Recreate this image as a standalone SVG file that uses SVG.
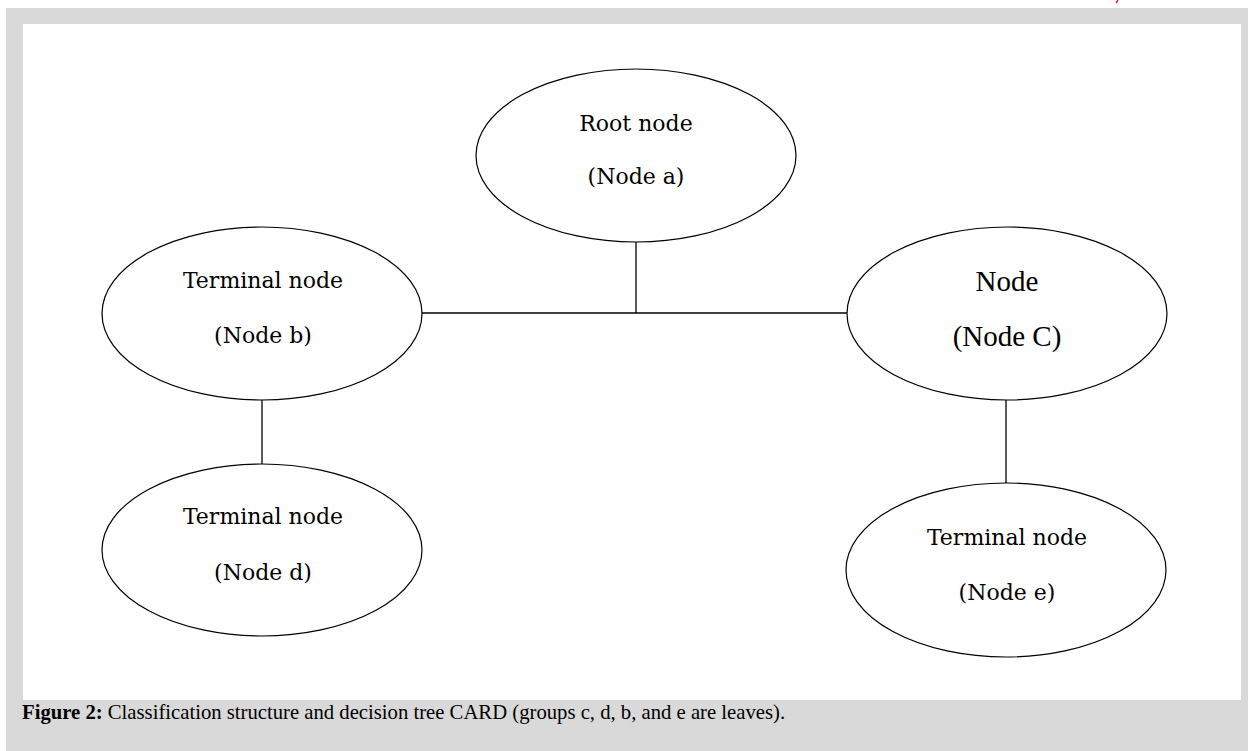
<svg xmlns="http://www.w3.org/2000/svg" width="1248" height="751" viewBox="0 0 1248 751">
<style>
.node ellipse{fill:#ffffff;stroke:#000000;stroke-width:1.2}
.lbl{font-family:"DejaVu Serif","Liberation Serif",serif;font-size:22px;fill:#000000;text-anchor:middle}
.lblt{font-family:"Liberation Serif","Times New Roman",serif;font-size:29px;fill:#000000;text-anchor:middle}
.conn line{stroke:#000000;stroke-width:1.3}
.cap{font-family:"Liberation Serif","Times New Roman",serif;font-size:20.7px;fill:#000000}
</style>
<rect x="0" y="0" width="1248" height="751" fill="#ffffff"/>
<rect x="6" y="8" width="1242" height="743" fill="#d9d9d9"/>
<rect x="23" y="24" width="1218" height="676" fill="#ffffff"/>
<line x1="1116" y1="3" x2="1118" y2="0" stroke="#e03030" stroke-width="1.5"/>
<g id="connectors" class="conn">
<line x1="636" y1="242" x2="636" y2="313"/>
<line x1="422" y1="313" x2="847" y2="313"/>
<line x1="262" y1="400" x2="262" y2="464"/>
<line x1="1006" y1="400" x2="1006" y2="483"/>
</g>
<g id="node-a" class="node">
<ellipse cx="636" cy="155.5" rx="160" ry="86.5"/>
<text class="lbl" x="636" y="131">Root node</text>
<text class="lbl" x="636" y="184">(Node a)</text>
</g>
<g id="node-b" class="node">
<ellipse cx="262" cy="313.5" rx="160" ry="86.5"/>
<text class="lbl" x="263" y="288">Terminal node</text>
<text class="lbl" x="263" y="343">(Node b)</text>
</g>
<g id="node-c" class="node">
<ellipse cx="1007" cy="313.5" rx="160" ry="86.5"/>
<text class="lblt" x="1007" y="291">Node</text>
<text class="lblt" x="1007" y="346">(Node C)</text>
</g>
<g id="node-d" class="node">
<ellipse cx="262" cy="550" rx="160" ry="86"/>
<text class="lbl" x="263" y="524">Terminal node</text>
<text class="lbl" x="263" y="580">(Node d)</text>
</g>
<g id="node-e" class="node">
<ellipse cx="1006" cy="570" rx="160" ry="87"/>
<text class="lbl" x="1007" y="545">Terminal node</text>
<text class="lbl" x="1007" y="600">(Node e)</text>
</g>
<text class="cap" x="22" y="719"><tspan font-weight="bold">Figure 2:</tspan> Classification structure and decision tree CARD (groups c, d, b, and e are leaves).</text>
</svg>
